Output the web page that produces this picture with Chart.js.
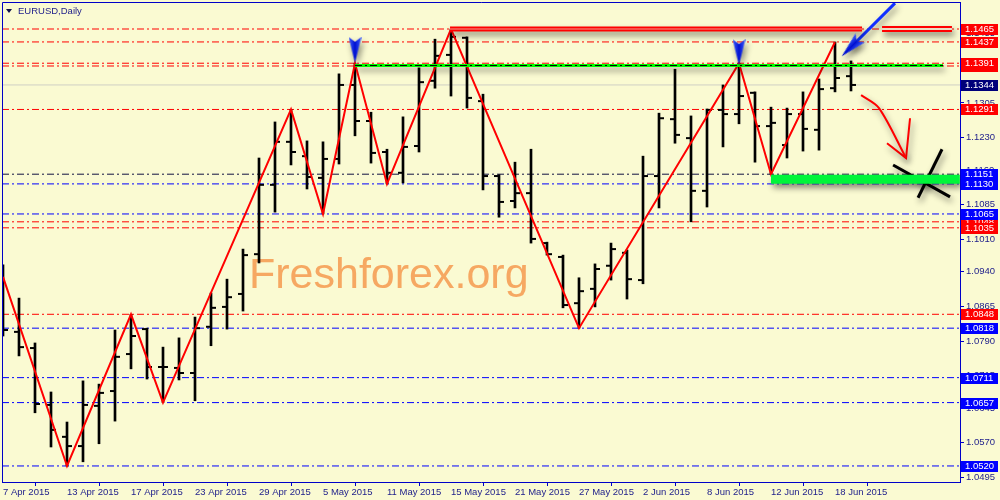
<!DOCTYPE html>
<html>
<head>
<meta charset="utf-8">
<title>EURUSD,Daily</title>
<script src="https://cdn.jsdelivr.net/npm/chart.js@4.4.0/dist/chart.umd.min.js"></script>
<style>
  html, body { margin: 0; padding: 0; background: #fafad2; }
  #wrap { width: 1000px; height: 500px; }
</style>
</head>
<body>
<div id="wrap"><canvas id="myChart" width="1000" height="500"></canvas></div>
<script>
// daily bars, 7 Apr 2015 .. 19 Jun 2015
const dates = ['7 Apr 2015','8 Apr 2015','9 Apr 2015','10 Apr 2015','13 Apr 2015','14 Apr 2015','15 Apr 2015','16 Apr 2015','17 Apr 2015',
  '20 Apr 2015','21 Apr 2015','22 Apr 2015','23 Apr 2015','24 Apr 2015','27 Apr 2015','28 Apr 2015','29 Apr 2015','30 Apr 2015',
  '1 May 2015','4 May 2015','5 May 2015','6 May 2015','7 May 2015','8 May 2015','11 May 2015','12 May 2015','13 May 2015','14 May 2015','15 May 2015',
  '18 May 2015','19 May 2015','20 May 2015','21 May 2015','22 May 2015','25 May 2015','26 May 2015','27 May 2015','28 May 2015','29 May 2015',
  '1 Jun 2015','2 Jun 2015','3 Jun 2015','4 Jun 2015','5 Jun 2015','8 Jun 2015','9 Jun 2015','10 Jun 2015','11 Jun 2015','12 Jun 2015',
  '15 Jun 2015','16 Jun 2015','17 Jun 2015','18 Jun 2015','19 Jun 2015'];

const opens = [1.0821,1.0810,1.0775,1.0652,1.0583,1.0563,1.0650,1.0682,1.0762,1.0816,
  1.0734,1.0732,1.0721,1.0821,1.0864,1.0892,1.0978,1.1128,1.1221,1.1190,
  1.1143,1.1184,1.1344,1.1266,1.1199,1.1154,1.1212,1.1353,1.1409,1.1446,
  1.1309,1.1147,1.1093,1.1110,1.1002,1.0972,1.0872,1.0903,1.0953,1.0981,
  1.0922,1.1147,1.1270,1.1229,1.1115,1.1290,1.1281,1.1327,1.1255,1.1214,
  1.1281,1.1247,1.1337,1.1363];
const highs = [1.0955,1.0883,1.0786,1.0680,1.0615,1.0704,1.0697,1.0814,1.0848,1.0818,
  1.0777,1.0797,1.0842,1.0894,1.0924,1.0989,1.1186,1.1264,1.1291,1.1223,
  1.1221,1.1368,1.1391,1.1285,1.1205,1.1275,1.1381,1.1443,1.1465,1.1448,
  1.1324,1.1150,1.1177,1.1205,1.1004,1.0976,1.0927,1.0957,1.1002,1.0987,
  1.1190,1.1283,1.1378,1.1277,1.1292,1.1344,1.1391,1.1329,1.1296,1.1294,
  1.1329,1.1357,1.1437,1.1396];
const lows = [1.0801,1.0758,1.0635,1.0561,1.0520,1.0529,1.0568,1.0617,1.0730,1.0708,
  1.0657,1.0706,1.0661,1.0780,1.0816,1.0855,1.0959,1.1069,1.1171,1.1119,
  1.1065,1.1173,1.1234,1.1175,1.1130,1.1132,1.1199,1.1337,1.1320,1.1294,
  1.1117,1.1058,1.1078,1.1002,1.0976,1.0862,1.0818,1.0864,1.0922,1.0881,
  1.0914,1.1078,1.1218,1.1048,1.1080,1.1210,1.1260,1.1177,1.1151,1.1186,
  1.1201,1.1203,1.1329,1.1331];
const closes = [1.0814,1.0777,1.0654,1.0598,1.0563,1.0652,1.0678,1.0756,1.0801,1.0734,
  1.0734,1.0721,1.0818,1.0862,1.0885,1.0976,1.1128,1.1221,1.1199,1.1145,
  1.1184,1.1344,1.1266,1.1197,1.1154,1.1210,1.1350,1.1407,1.1448,1.1316,
  1.1147,1.1091,1.1110,1.1011,1.0978,1.0868,1.0898,1.0946,1.0989,1.0924,
  1.1147,1.1272,1.1236,1.1115,1.1290,1.1281,1.1320,1.1255,1.1262,1.1281,
  1.1249,1.1335,1.1359,1.1344];

// zigzag vertices (bar index, price)
const zzIndex = [0, 4, 8, 10, 18, 20, 22, 24, 28, 36, 46, 48, 52];
const zzPrice = [1.0929, 1.0520, 1.0848, 1.0657, 1.1291, 1.1065, 1.1391, 1.1130, 1.1465, 1.0818, 1.1391, 1.1151, 1.1437];

// horizontal levels
const redLevels = [1.1465, 1.1437, 1.1385, 1.1391, 1.1291, 1.1048, 1.1035, 1.0848];
const blueLevels = [1.1130, 1.1065, 1.0818, 1.0711, 1.0657, 1.0520];
const blackLevels = [1.1151];
const bidPrice = 1.1344;

// axis ticks
const yTicks = [1.1455, 1.1380, 1.1305, 1.1230, 1.1160, 1.1085, 1.1010, 1.0940, 1.0865, 1.0790, 1.0715, 1.0645, 1.0570, 1.0495];
const xTicks = [0, 4, 8, 12, 16, 20, 24, 28, 32, 36, 40, 44, 48, 52];

// drawn objects (bar index, price)
const resistBar = [[27.94, 1.1465], [53.69, 1.1465]];
const resistBox = [[54.94, 1.1465], [59.31, 1.1465]];
const neckLine = [[22, 1.1386], [58.75, 1.1386]];
const supportZone = [[48, 1.1140], [59.8, 1.1140]];
const topMarks = [[22, 1.1420], [46, 1.1415]];
const blueArrow = [[55.75, 1.1521], [53.0, 1.1426]];
const redArrow = [[53.63, 1.1322], [54.75, 1.1294], [56.44, 1.1186]];
const redArrowHead = [[56.69, 1.1272], [56.44, 1.1186], [55.25, 1.1218]];
const crossA = [[55.63, 1.1171], [59.19, 1.1102]];
const crossB = [[58.69, 1.1205], [57.19, 1.1100]];

const xMin = -0.0625, xMax = 59.8125;
const yMin = 1.04853, yMax = 1.15234;
const axisBlue = '#0000c8';
const textNavy = '#1c1c8a';
const font = "'Liberation Sans', Arial, sans-serif";

const pts = (arr) => arr.map(p => ({ x: p[0], y: p[1] }));

// blue arrow marker
const markImg = document.createElement('canvas');
markImg.width = 13; markImg.height = 26;
const mg = markImg.getContext('2d');
const grad = mg.createLinearGradient(0, 0, 13, 0);
grad.addColorStop(0, '#4060ff'); grad.addColorStop(0.5, '#0010d0'); grad.addColorStop(1, '#4060ff');
mg.fillStyle = grad;
mg.beginPath(); mg.moveTo(0, 0); mg.lineTo(6.5, 5); mg.lineTo(13, 0); mg.lineTo(6.5, 26); mg.closePath(); mg.fill();

const levelSet = (v, color) => ({
  type: 'line', data: [{ x: xMin, y: v }, { x: xMax, y: v }],
  borderColor: color, borderWidth: 1, borderDash: [7, 3, 2, 3], pointRadius: 0, order: 6
});
const segSet = (arr, color, width, order, extra) => Object.assign({
  type: 'line', data: pts(arr), borderColor: color, borderWidth: width,
  pointRadius: 0, order: order, shadow: true
}, extra || {});

const datasets = [];
redLevels.forEach(v => datasets.push(levelSet(v, '#ff0000')));
blueLevels.forEach(v => datasets.push(levelSet(v, '#0000ff')));
blackLevels.forEach(v => datasets.push(levelSet(v, '#101040')));
datasets.push({ type: 'line', data: [{ x: xMin, y: bidPrice }, { x: xMax, y: bidPrice }], borderColor: '#cfcfc4', borderWidth: 1, pointRadius: 0, order: 7 });

// high-low
datasets.push({ type: 'bar', data: highs.map((h, i) => ({ x: i, y: [lows[i], h] })), backgroundColor: '#000', barThickness: 2, order: 4 });
// open (left) / close (right)
datasets.push({ type: 'line', data: opens.map((v, i) => ({ x: i, y: v })), showLine: false, pointStyle: 'dash', pointRotation: 180, pointRadius: 5, pointBorderWidth: 2, pointBorderColor: '#000', order: 3 });
datasets.push({ type: 'line', data: closes.map((v, i) => ({ x: i, y: v })), showLine: false, pointStyle: 'dash', pointRotation: 0, pointRadius: 5, pointBorderWidth: 2, pointBorderColor: '#000', order: 3 });
// zigzag
datasets.push({ type: 'line', data: zzIndex.map((x, k) => ({ x: x, y: zzPrice[k] })), borderColor: '#ff0000', borderWidth: 2, pointRadius: 0, order: 2 });

// objects
datasets.push(segSet(supportZone, '#00f53a', 9, 1));
datasets.push(segSet(neckLine, '#00ff00', 3, 1));
datasets.push(segSet(neckLine, '#000000', 1, 0.9, { borderDash: [7, 3, 2, 3], shadow: false }));
datasets.push(segSet(resistBar, '#ff0000', 5, 1));
datasets.push(segSet(resistBar, '#f0a090', 1, 0.9, { shadow: false }));
datasets.push(segSet(resistBox, '#ff0000', 6, 1));
datasets.push(segSet(resistBox, '#eadcc4', 2, 0.9, { shadow: false }));
datasets.push(segSet(redArrow, '#ff0000', 2, 1, { tension: 0.3 }));
datasets.push(segSet(redArrowHead, '#ff0000', 2, 1));
datasets.push(segSet(crossA, '#000000', 3, 1));
datasets.push(segSet(crossB, '#000000', 3, 1));
datasets.push(segSet(blueArrow, '#1030ff', 3, 1));
datasets.push({ type: 'line', data: pts([blueArrow[1]]), showLine: false, pointStyle: markImg, pointRotation: 45, pointRadius: 8, order: 0.5, shadow: true });
datasets.push({ type: 'line', data: pts(topMarks), showLine: false, pointStyle: markImg, pointRadius: 8, order: 0.5, shadow: true });

// shadow for drawn objects
const objShadow = {
  id: 'objShadow',
  beforeDatasetDraw(chart, args) {
    if (!chart.data.datasets[args.index].shadow) return;
    const c = chart.ctx;
    c.save();
    c.shadowColor = 'rgba(0,0,0,0.45)';
    c.shadowBlur = 6;
    c.shadowOffsetX = 2;
    c.shadowOffsetY = 4;
  },
  afterDatasetDraw(chart, args) {
    if (chart.data.datasets[args.index].shadow) chart.ctx.restore();
  }
};

// watermark
const watermark = {
  id: 'watermark',
  beforeDatasetsDraw(chart) {
    const c = chart.ctx;
    c.save();
    c.font = '43px ' + font;
    c.fillStyle = 'rgba(244,140,60,0.75)';
    c.textAlign = 'left';
    c.textBaseline = 'alphabetic';
    c.fillText('Freshforex.org', 249, 288);
    c.restore();
  }
};

// frame, title and price tags
const tags = [];
redLevels.forEach(v => tags.push({ v: v, c: '#ff0000' }));
blueLevels.concat(blackLevels).forEach(v => tags.push({ v: v, c: '#0000ff' }));
tags.push({ v: bidPrice, c: '#00007a' });

const overlay = {
  id: 'overlay',
  afterDraw(chart) {
    const c = chart.ctx, a = chart.chartArea, y = chart.scales.y;
    c.save();
    c.strokeStyle = axisBlue;
    c.lineWidth = 1;
    c.beginPath();
    c.moveTo(a.left + 0.5, a.bottom); c.lineTo(a.left + 0.5, a.top + 0.5); c.lineTo(a.right, a.top + 0.5);
    c.stroke();

    c.fillStyle = '#10104a';
    c.beginPath(); c.moveTo(6, 9); c.lineTo(12, 9); c.lineTo(9, 13); c.closePath(); c.fill();
    c.font = '9.5px ' + font;
    c.fillStyle = textNavy;
    c.textBaseline = 'middle';
    c.fillText('EURUSD,Daily', 18, 11);

    tags.forEach(t => {
      const py = Math.round(y.getPixelForValue(t.v));
      c.fillStyle = t.c;
      c.fillRect(961, py - 5, 37, 11);
      c.fillStyle = '#ffffff';
      c.fillText(t.v.toFixed(4), 965, py + 0.5);
    });
    c.restore();
  }
};

const ctx = document.getElementById('myChart');
new Chart(ctx, {
  type: 'line',
  data: { datasets: datasets },
  plugins: [objShadow, watermark, overlay],
  options: {
    responsive: false,
    animation: false,
    events: [],
    devicePixelRatio: 1,
    layout: { autoPadding: false, padding: { left: 2, top: 2, right: 0, bottom: 0 } },
    plugins: { legend: { display: false }, tooltip: { enabled: false } },
    scales: {
      x: {
        type: 'linear', min: xMin, max: xMax, offset: false,
        afterBuildTicks: (s) => { s.ticks = xTicks.map(v => ({ value: v })); },
        afterFit: (s) => { s.height = 18; s.paddingLeft = 0; s.paddingRight = 0; },
        ticks: {
          callback: (v) => dates[v], align: 'start', autoSkip: false, maxRotation: 0,
          padding: 1, color: textNavy, font: { family: font, size: 9.5 }
        },
        grid: { drawOnChartArea: false, drawTicks: true, tickLength: 4, tickColor: axisBlue },
        border: { color: axisBlue }
      },
      y: {
        type: 'linear', position: 'right', min: yMin, max: yMax,
        afterBuildTicks: (s) => { s.ticks = yTicks.map(v => ({ value: v })); },
        afterFit: (s) => { s.width = 40; s.paddingTop = 0; s.paddingBottom = 0; },
        ticks: {
          callback: (v) => v.toFixed(4), padding: 2, color: textNavy,
          font: { family: font, size: 9.5 }
        },
        grid: { drawOnChartArea: false, drawTicks: true, tickLength: 4, tickColor: axisBlue },
        border: { color: axisBlue }
      }
    }
  }
});
</script>
</body>
</html>
